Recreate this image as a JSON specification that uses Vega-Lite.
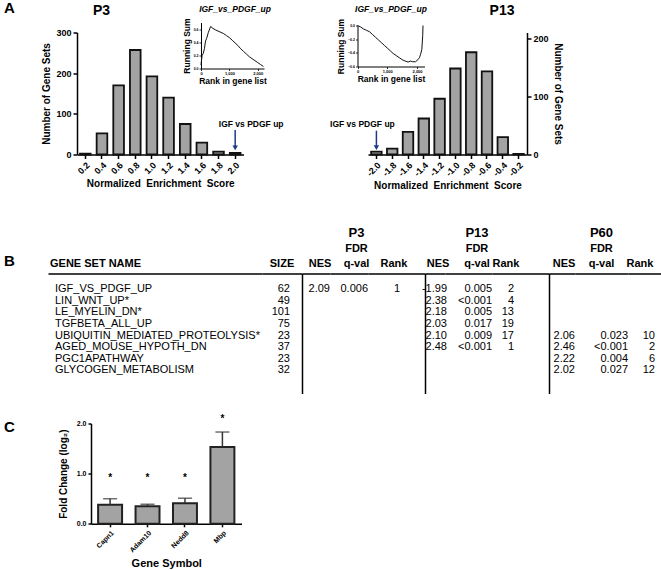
{
"$schema":"https://vega.github.io/schema/vega-lite/v6.json",
"padding":{"left":4,"top":0.5,"right":0,"bottom":0},
"config":{
 "font":"Liberation Sans",
 "view":{"stroke":null},
 "axis":{"grid":false,"domainColor":"#000","domainWidth":1.5,"tickColor":"#000","tickWidth":1.5,"tickSize":4,"labelColor":"#000","labelFontWeight":"bold","labelFontSize":9,"labelPadding":2,"titleColor":"#000","titleFontWeight":"bold","titleFontSize":10,"titlePadding":3},
 "title":{"color":"#000","fontWeight":"bold","baseline":"alphabetic","frame":"group","fontSize":11,"subtitleColor":"#000","subtitleFontWeight":"bold","subtitleFontSize":11,"subtitleLineHeight":15,"subtitlePadding":3},
 "text":{"color":"#000"}
},
"datasets":{
 "p3hist":[{"nes":"0.2","count":2},{"nes":"0.4","count":52},{"nes":"0.6","count":170},{"nes":"0.8","count":257},{"nes":"1.0","count":192},{"nes":"1.2","count":140},{"nes":"1.4","count":75},{"nes":"1.6","count":29},{"nes":"1.8","count":7},{"nes":"2.0","count":4}],
 "p13hist":[{"nes":"-2.0","count":5},{"nes":"-1.8","count":10},{"nes":"-1.6","count":39},{"nes":"-1.4","count":62},{"nes":"-1.2","count":96},{"nes":"-1.0","count":148},{"nes":"-0.8","count":176},{"nes":"-0.6","count":143},{"nes":"-0.4","count":30},{"nes":"-0.2","count":1}],
 "p3es":[{"rank":0,"es":0.05},{"rank":10,"es":0.1},{"rank":40,"es":0.2},{"rank":80,"es":0.23},{"rank":120,"es":0.3},{"rank":160,"es":0.42},{"rank":200,"es":0.46},{"rank":260,"es":0.55},{"rank":340,"es":0.64},{"rank":420,"es":0.61},{"rank":500,"es":0.59},{"rank":600,"es":0.57},{"rank":700,"es":0.55},{"rank":800,"es":0.53},{"rank":900,"es":0.5},{"rank":1000,"es":0.47},{"rank":1100,"es":0.43},{"rank":1200,"es":0.39},{"rank":1300,"es":0.35},{"rank":1400,"es":0.3},{"rank":1500,"es":0.26},{"rank":1600,"es":0.22},{"rank":1700,"es":0.18},{"rank":1800,"es":0.15},{"rank":1900,"es":0.12},{"rank":2000,"es":0.09},{"rank":2100,"es":0.06},{"rank":2200,"es":0.03}],
 "p13es":[{"rank":0,"es":0.0},{"rank":100,"es":-0.02},{"rank":200,"es":-0.05},{"rank":300,"es":-0.07},{"rank":400,"es":-0.09},{"rank":500,"es":-0.13},{"rank":600,"es":-0.17},{"rank":700,"es":-0.21},{"rank":800,"es":-0.25},{"rank":900,"es":-0.29},{"rank":1000,"es":-0.33},{"rank":1100,"es":-0.37},{"rank":1200,"es":-0.41},{"rank":1300,"es":-0.44},{"rank":1400,"es":-0.47},{"rank":1500,"es":-0.5},{"rank":1600,"es":-0.52},{"rank":1700,"es":-0.535},{"rank":1780,"es":-0.52},{"rank":1850,"es":-0.53},{"rank":1950,"es":-0.53},{"rank":2030,"es":-0.5},{"rank":2080,"es":-0.47},{"rank":2120,"es":-0.42},{"rank":2160,"es":-0.35},{"rank":2190,"es":-0.15},{"rank":2200,"es":0.0}],
 "table":[
  {"name":"IGF_VS_PDGF_UP","size":"62","p3_nes":"2.09","p3_fdr":"0.006","p3_rank":"1","p13_nes":"-1.99","p13_fdr":"0.005","p13_rank":"2","p60_nes":"","p60_fdr":"","p60_rank":""},
  {"name":"LIN_WNT_UP*","size":"49","p3_nes":"","p3_fdr":"","p3_rank":"","p13_nes":"2.38","p13_fdr":"<0.001","p13_rank":"4","p60_nes":"","p60_fdr":"","p60_rank":""},
  {"name":"LE_MYELIN_DN*","size":"101","p3_nes":"","p3_fdr":"","p3_rank":"","p13_nes":"2.18","p13_fdr":"0.005","p13_rank":"13","p60_nes":"","p60_fdr":"","p60_rank":""},
  {"name":"TGFBETA_ALL_UP","size":"75","p3_nes":"","p3_fdr":"","p3_rank":"","p13_nes":"2.03","p13_fdr":"0.017","p13_rank":"19","p60_nes":"","p60_fdr":"","p60_rank":""},
  {"name":"UBIQUITIN_MEDIATED_PROTEOLYSIS*","size":"23","p3_nes":"","p3_fdr":"","p3_rank":"","p13_nes":"2.10","p13_fdr":"0.009","p13_rank":"17","p60_nes":"2.06","p60_fdr":"0.023","p60_rank":"10"},
  {"name":"AGED_MOUSE_HYPOTH_DN","size":"37","p3_nes":"","p3_fdr":"","p3_rank":"","p13_nes":"2.48","p13_fdr":"<0.001","p13_rank":"1","p60_nes":"2.46","p60_fdr":"<0.001","p60_rank":"2"},
  {"name":"PGC1APATHWAY","size":"23","p3_nes":"","p3_fdr":"","p3_rank":"","p13_nes":"","p13_fdr":"","p13_rank":"","p60_nes":"2.22","p60_fdr":"0.004","p60_rank":"6"},
  {"name":"GLYCOGEN_METABOLISM","size":"32","p3_nes":"","p3_fdr":"","p3_rank":"","p13_nes":"","p13_fdr":"","p13_rank":"","p60_nes":"2.02","p60_fdr":"0.027","p60_rank":"12"}
 ],
 "fc":[{"gene":"Capn1","fc":0.38,"upper":0.5},{"gene":"Adam10","fc":0.35,"upper":0.39},{"gene":"Nedd8","fc":0.41,"upper":0.51},{"gene":"Mbp","fc":1.53,"upper":1.83}]
},
"spacing":0,
"vconcat":[
 {"bounds":"flush","spacing":0,"hconcat":[
  {"width":73,"height":194,"data":{"values":[{}]},"mark":"text","encoding":{"text":{"value":""}},"title":{"text":"A","anchor":"start","fontSize":15,"offset":16.5}},
  {"width":166.5,"height":122,
   "title":{"text":"P3","anchor":"start","dx":16,"fontSize":14,"offset":-12.4},
   "resolve":{"scale":{"x":"independent","y":"independent"},"axis":{"x":"independent","y":"independent"}},
   "layer":[
    {"layer":[
     {"data":{"name":"p3hist"},"mark":{"type":"bar","fill":"#a3a3a3","stroke":"#111","strokeWidth":1.8},
      "encoding":{
       "x":{"field":"nes","type":"ordinal","scale":{"domain":["0.2","0.4","0.6","0.8","1.0","1.2","1.4","1.6","1.8","2.0"],"paddingInner":0.36,"paddingOuter":0.18},"axis":{"orient":"bottom","labelAngle":-45,"title":"Normalized\u00a0\u00a0Enrichment\u00a0\u00a0Score","titlePadding":3}},
       "y":{"field":"count","type":"quantitative","scale":{"domain":[0,300],"nice":false},"axis":{"orient":"left","values":[0,100,200,300],"title":"Number of Gene Sets","titlePadding":4}}}},
     {"data":{"values":[{"nes":"2.0"}]},"mark":{"type":"rule","color":"#1b3a8c","strokeWidth":1.5},"encoding":{"x":{"field":"nes","type":"ordinal"},"y":{"datum":60},"y2":{"datum":20}}},
     {"data":{"values":[{"nes":"2.0"}]},"mark":{"type":"point","shape":"triangle-down","filled":true,"color":"#1b3a8c","opacity":1,"size":30},"encoding":{"x":{"field":"nes","type":"ordinal"},"y":{"datum":16}}},
     {"data":{"values":[{"nes":"2.0","label":"IGF vs PDGF up"}]},"mark":{"type":"text","fontWeight":"bold","fontSize":8.5,"dx":16},"encoding":{"x":{"field":"nes","type":"ordinal"},"y":{"datum":76},"text":{"field":"label"}}}
    ]},
    {"layer":[
     {"data":{"name":"p3es"},"mark":{"type":"line","color":"#111","strokeWidth":1},"encoding":{
       "x":{"field":"rank","type":"quantitative","scale":{"domain":[0,2220],"range":[124,187],"nice":false},"axis":{"orient":"bottom","offset":-86,"values":[0,1000,2000],"labelFontSize":4,"labelPadding":1,"labelFlush":false,"labelAngle":0,"tickSize":2,"tickWidth":0.8,"domainWidth":1,"title":"Rank in gene list","titleFontSize":8.5,"titlePadding":1}},
       "y":{"field":"es","type":"quantitative","scale":{"domain":[0,0.7],"range":[36,-10],"nice":false},"axis":{"orient":"left","offset":-124,"values":[0,0.1,0.2,0.3,0.4,0.5,0.6,0.7],"format":".1f","labelFontSize":3.5,"labelPadding":1,"tickSize":2,"tickWidth":0.8,"domainWidth":1,"title":"Running Sum","titleFontSize":8.5,"titlePadding":2}}}},
     {"data":{"values":[{"t":"IGF_vs_PDGF_up"}]},"mark":{"type":"text","fontStyle":"italic","fontWeight":"bold","fontSize":8.5},"encoding":{"x":{"datum":1200},"y":{"datum":0.9},"text":{"field":"t"}}}
    ]}
   ]},
  {"width":123.7,"height":1,"data":{"values":[{}]},"mark":"text","encoding":{"text":{"value":""}}},
  {"width":159,"height":122,
   "title":{"text":"P13","anchor":"end","dx":-12.5,"fontSize":14,"offset":-12.4},
   "resolve":{"scale":{"x":"independent","y":"independent"},"axis":{"x":"independent","y":"independent"}},
   "layer":[
    {"layer":[
     {"data":{"name":"p13hist"},"mark":{"type":"bar","fill":"#a3a3a3","stroke":"#111","strokeWidth":1.8},
      "encoding":{
       "x":{"field":"nes","type":"ordinal","scale":{"domain":["-2.0","-1.8","-1.6","-1.4","-1.2","-1.0","-0.8","-0.6","-0.4","-0.2"],"paddingInner":0.335,"paddingOuter":0.2},"axis":{"orient":"bottom","labelAngle":-45,"title":"Normalized\u00a0\u00a0Enrichment\u00a0\u00a0Score","titlePadding":3}},
       "y":{"field":"count","type":"quantitative","scale":{"domain":[0,210],"nice":false},"axis":{"orient":"right","values":[0,50,100,150,200],"title":"Number of Gene Sets","titlePadding":4}}}},
     {"data":{"values":[{"nes":"-2.0"}]},"mark":{"type":"rule","color":"#1b3a8c","strokeWidth":1.5},"encoding":{"x":{"field":"nes","type":"ordinal"},"y":{"datum":41},"y2":{"datum":15}}},
     {"data":{"values":[{"nes":"-2.0"}]},"mark":{"type":"point","shape":"triangle-down","filled":true,"color":"#1b3a8c","opacity":1,"size":30},"encoding":{"x":{"field":"nes","type":"ordinal"},"y":{"datum":12}}},
     {"data":{"values":[{"nes":"-2.0","label":"IGF vs PDGF up"}]},"mark":{"type":"text","fontWeight":"bold","fontSize":8.5,"dx":-14},"encoding":{"x":{"field":"nes","type":"ordinal"},"y":{"datum":53},"text":{"field":"label"}}}
    ]},
    {"layer":[
     {"data":{"name":"p13es"},"mark":{"type":"line","color":"#111","strokeWidth":1},"encoding":{
       "x":{"field":"rank","type":"quantitative","scale":{"domain":[0,2250],"range":[-10.5,56.5],"nice":false},"axis":{"orient":"bottom","offset":-88,"values":[0,1000,2000],"labelFontSize":4,"labelPadding":1,"labelFlush":false,"labelAngle":0,"tickSize":2,"tickWidth":0.8,"domainWidth":1,"title":"Rank in gene list","titleFontSize":8.5,"titlePadding":1}},
       "y":{"field":"es","type":"quantitative","scale":{"domain":[-0.6,0],"range":[34,-7],"nice":false},"axis":{"orient":"left","offset":10.5,"values":[-0.6,-0.5,-0.4,-0.3,-0.2,-0.1,0],"format":".1f","labelFontSize":3.5,"labelPadding":1,"tickSize":2,"tickWidth":0.8,"domainWidth":1,"title":"Running Sum","titleFontSize":8.5,"titlePadding":2}}}},
     {"data":{"values":[{"t":"IGF_vs_PDGF_up"}]},"mark":{"type":"text","fontStyle":"italic","fontWeight":"bold","fontSize":8.5},"encoding":{"x":{"datum":1125},"y":{"datum":0.235},"text":{"field":"t"}}}
    ]}
   ]}
 ]},
 {"bounds":"flush","spacing":0,"hconcat":[
  {"width":44,"height":140,"data":{"values":[{}]},"mark":"text","encoding":{"text":{"value":""}},"title":{"text":"B","anchor":"start","fontSize":15,"offset":5}},
  {"width":214,"height":120,"data":{"name":"table"},"title":{"text":"GENE SET NAME","anchor":"start","dx":2,"offset":5},"mark":{"type":"text","align":"left","fontSize":11,"dx":7},
   "encoding":{"x":{"datum":"c","type":"nominal","scale":{"type":"point","align":0},"axis":{"orient":"top","labels":false,"ticks":false,"title":null,"domainWidth":1.5}},"y":{"field":"name","type":"nominal","scale":{"type":"point","domain":["IGF_VS_PDGF_UP","LIN_WNT_UP*","LE_MYELIN_DN*","TGFBETA_ALL_UP","UBIQUITIN_MEDIATED_PROTEOLYSIS*","AGED_MOUSE_HYPOTH_DN","PGC1APATHWAY","GLYCOGEN_METABOLISM","~a","~b"],"padding":0.685,"align":1},"axis":null},"text":{"field":"name"}}},
  {"width":40,"height":120,"data":{"name":"table"},"title":{"text":"SIZE","offset":5},"mark":{"type":"text","align":"right","fontSize":11,"dx":-12},
   "encoding":{"x":{"datum":"c","type":"nominal","scale":{"type":"point","align":1},"axis":{"orient":"top","labels":false,"ticks":false,"title":null,"domainWidth":1.5}},"y":{"field":"name","type":"nominal","scale":{"type":"point","domain":["IGF_VS_PDGF_UP","LIN_WNT_UP*","LE_MYELIN_DN*","TGFBETA_ALL_UP","UBIQUITIN_MEDIATED_PROTEOLYSIS*","AGED_MOUSE_HYPOTH_DN","PGC1APATHWAY","GLYCOGEN_METABOLISM","~a","~b"],"padding":0.685,"align":1},"axis":null},"text":{"field":"size"}}},
  {"width":28,"height":120,"data":{"name":"table"},"title":{"text":"NES","dx":4,"offset":5},"mark":{"type":"text","align":"right","fontSize":11},
   "encoding":{"x":{"datum":"c","type":"nominal","scale":{"type":"point","align":1},"axis":{"orient":"top","labels":false,"ticks":false,"title":null,"domainWidth":1.5}},"y":{"field":"name","type":"nominal","scale":{"type":"point","domain":["IGF_VS_PDGF_UP","LIN_WNT_UP*","LE_MYELIN_DN*","TGFBETA_ALL_UP","UBIQUITIN_MEDIATED_PROTEOLYSIS*","AGED_MOUSE_HYPOTH_DN","PGC1APATHWAY","GLYCOGEN_METABOLISM","~a","~b"],"padding":0.685,"align":1},"axis":{"orient":"left","labels":false,"ticks":false,"title":null,"domainWidth":1.5}},"text":{"field":"p3_nes"}}},
  {"width":38,"height":120,"data":{"name":"table"},"title":{"text":"P3","subtitle":["FDR","q-val"],"fontSize":13,"dx":7.5,"offset":5},"mark":{"type":"text","align":"right","fontSize":11},
   "encoding":{"x":{"datum":"c","type":"nominal","scale":{"type":"point","align":1},"axis":{"orient":"top","labels":false,"ticks":false,"title":null,"domainWidth":1.5}},"y":{"field":"name","type":"nominal","scale":{"type":"point","domain":["IGF_VS_PDGF_UP","LIN_WNT_UP*","LE_MYELIN_DN*","TGFBETA_ALL_UP","UBIQUITIN_MEDIATED_PROTEOLYSIS*","AGED_MOUSE_HYPOTH_DN","PGC1APATHWAY","GLYCOGEN_METABOLISM","~a","~b"],"padding":0.685,"align":1},"axis":null},"text":{"field":"p3_fdr"}}},
  {"width":57,"height":120,"data":{"name":"table"},"title":{"text":"Rank","dx":-2.5,"offset":5},"mark":{"type":"text","align":"right","fontSize":11,"dx":-25},
   "encoding":{"x":{"datum":"c","type":"nominal","scale":{"type":"point","align":1},"axis":{"orient":"top","labels":false,"ticks":false,"title":null,"domainWidth":1.5}},"y":{"field":"name","type":"nominal","scale":{"type":"point","domain":["IGF_VS_PDGF_UP","LIN_WNT_UP*","LE_MYELIN_DN*","TGFBETA_ALL_UP","UBIQUITIN_MEDIATED_PROTEOLYSIS*","AGED_MOUSE_HYPOTH_DN","PGC1APATHWAY","GLYCOGEN_METABOLISM","~a","~b"],"padding":0.685,"align":1},"axis":null},"text":{"field":"p3_rank"}}},
  {"width":20,"height":120,"data":{"name":"table"},"title":{"text":"NES","dx":3,"offset":5},"mark":{"type":"text","align":"right","fontSize":11,"dx":2},
   "encoding":{"x":{"datum":"c","type":"nominal","scale":{"type":"point","align":1},"axis":{"orient":"top","labels":false,"ticks":false,"title":null,"domainWidth":1.5}},"y":{"field":"name","type":"nominal","scale":{"type":"point","domain":["IGF_VS_PDGF_UP","LIN_WNT_UP*","LE_MYELIN_DN*","TGFBETA_ALL_UP","UBIQUITIN_MEDIATED_PROTEOLYSIS*","AGED_MOUSE_HYPOTH_DN","PGC1APATHWAY","GLYCOGEN_METABOLISM","~a","~b"],"padding":0.685,"align":1},"axis":{"orient":"left","labels":false,"ticks":false,"title":null,"domainWidth":1.5}},"text":{"field":"p13_nes"}}},
  {"width":47,"height":120,"data":{"name":"table"},"title":{"text":"P13","subtitle":["FDR","q-val"],"fontSize":13,"dx":8.5,"offset":5},"mark":{"type":"text","align":"right","fontSize":11},
   "encoding":{"x":{"datum":"c","type":"nominal","scale":{"type":"point","align":1},"axis":{"orient":"top","labels":false,"ticks":false,"title":null,"domainWidth":1.5}},"y":{"field":"name","type":"nominal","scale":{"type":"point","domain":["IGF_VS_PDGF_UP","LIN_WNT_UP*","LE_MYELIN_DN*","TGFBETA_ALL_UP","UBIQUITIN_MEDIATED_PROTEOLYSIS*","AGED_MOUSE_HYPOTH_DN","PGC1APATHWAY","GLYCOGEN_METABOLISM","~a","~b"],"padding":0.685,"align":1},"axis":null},"text":{"field":"p13_fdr"}}},
  {"width":57,"height":120,"data":{"name":"table"},"title":{"text":"Rank","dx":-14.5,"offset":5},"mark":{"type":"text","align":"right","fontSize":11,"dx":-35},
   "encoding":{"x":{"datum":"c","type":"nominal","scale":{"type":"point","align":1},"axis":{"orient":"top","labels":false,"ticks":false,"title":null,"domainWidth":1.5}},"y":{"field":"name","type":"nominal","scale":{"type":"point","domain":["IGF_VS_PDGF_UP","LIN_WNT_UP*","LE_MYELIN_DN*","TGFBETA_ALL_UP","UBIQUITIN_MEDIATED_PROTEOLYSIS*","AGED_MOUSE_HYPOTH_DN","PGC1APATHWAY","GLYCOGEN_METABOLISM","~a","~b"],"padding":0.685,"align":1},"axis":null},"text":{"field":"p13_rank"}}},
  {"width":26,"height":120,"data":{"name":"table"},"title":{"text":"NES","dx":2,"offset":5},"mark":{"type":"text","align":"right","fontSize":11},
   "encoding":{"x":{"datum":"c","type":"nominal","scale":{"type":"point","align":1},"axis":{"orient":"top","labels":false,"ticks":false,"title":null,"domainWidth":1.5}},"y":{"field":"name","type":"nominal","scale":{"type":"point","domain":["IGF_VS_PDGF_UP","LIN_WNT_UP*","LE_MYELIN_DN*","TGFBETA_ALL_UP","UBIQUITIN_MEDIATED_PROTEOLYSIS*","AGED_MOUSE_HYPOTH_DN","PGC1APATHWAY","GLYCOGEN_METABOLISM","~a","~b"],"padding":0.685,"align":1},"axis":{"orient":"left","labels":false,"ticks":false,"title":null,"domainWidth":1.5}},"text":{"field":"p60_nes"}}},
  {"width":53,"height":120,"data":{"name":"table"},"title":{"text":"P60","subtitle":["FDR","q-val"],"fontSize":13,"dx":0,"offset":5},"mark":{"type":"text","align":"right","fontSize":11},
   "encoding":{"x":{"datum":"c","type":"nominal","scale":{"type":"point","align":1},"axis":{"orient":"top","labels":false,"ticks":false,"title":null,"domainWidth":1.5}},"y":{"field":"name","type":"nominal","scale":{"type":"point","domain":["IGF_VS_PDGF_UP","LIN_WNT_UP*","LE_MYELIN_DN*","TGFBETA_ALL_UP","UBIQUITIN_MEDIATED_PROTEOLYSIS*","AGED_MOUSE_HYPOTH_DN","PGC1APATHWAY","GLYCOGEN_METABOLISM","~a","~b"],"padding":0.685,"align":1},"axis":null},"text":{"field":"p60_fdr"}}},
  {"width":33,"height":120,"data":{"name":"table"},"title":{"text":"Rank","dx":-4.5,"offset":5},"mark":{"type":"text","align":"right","fontSize":11,"dx":-6},
   "encoding":{"x":{"datum":"c","type":"nominal","scale":{"type":"point","align":1},"axis":{"orient":"top","labels":false,"ticks":false,"title":null,"domainWidth":1.5}},"y":{"field":"name","type":"nominal","scale":{"type":"point","domain":["IGF_VS_PDGF_UP","LIN_WNT_UP*","LE_MYELIN_DN*","TGFBETA_ALL_UP","UBIQUITIN_MEDIATED_PROTEOLYSIS*","AGED_MOUSE_HYPOTH_DN","PGC1APATHWAY","GLYCOGEN_METABOLISM","~a","~b"],"padding":0.685,"align":1},"axis":null},"text":{"field":"p60_rank"}}}
 ]},
 {"bounds":"flush","spacing":0,"hconcat":[
  {"width":87,"height":100,"data":{"values":[{}]},"mark":"text","encoding":{"text":{"value":""}},"title":{"text":"C","anchor":"start","fontSize":15,"offset":-11}},
  {"width":150.5,"height":100.3,"data":{"name":"fc"},
   "encoding":{"x":{"field":"gene","type":"nominal","sort":null,"scale":{"paddingInner":0.36,"paddingOuter":0.19},"axis":{"labelAngle":-45,"labelFontSize":7,"tickSize":3,"title":"Gene Symbol","titleFontSize":11,"titlePadding":4}}},
   "layer":[
    {"mark":{"type":"bar","fill":"#a3a3a3","stroke":"#222","strokeWidth":2},"encoding":{"y":{"field":"fc","type":"quantitative","scale":{"domain":[0,2],"nice":false},"axis":{"values":[0,0.5,1,1.5,2],"format":".1f","labelFontSize":7,"tickSize":3,"title":"Fold Change (log₂)","titlePadding":8}}}},
    {"mark":{"type":"rule","color":"#333","strokeWidth":1.5},"encoding":{"y":{"field":"fc","type":"quantitative"},"y2":{"field":"upper"}}},
    {"mark":{"type":"tick","color":"#333","thickness":1.5,"size":14},"encoding":{"y":{"field":"upper","type":"quantitative"}}},
    {"transform":[{"filter":"datum.gene != 'Mbp'"}],"mark":{"type":"text","fontSize":10,"fontWeight":"bold","text":"*","color":"#000"},"encoding":{"y":{"datum":0.92}}},
    {"transform":[{"filter":"datum.gene == 'Mbp'"}],"mark":{"type":"text","fontSize":10,"fontWeight":"bold","text":"*","color":"#000"},"encoding":{"y":{"datum":2.08}}}
   ]}
 ]}
]
}
